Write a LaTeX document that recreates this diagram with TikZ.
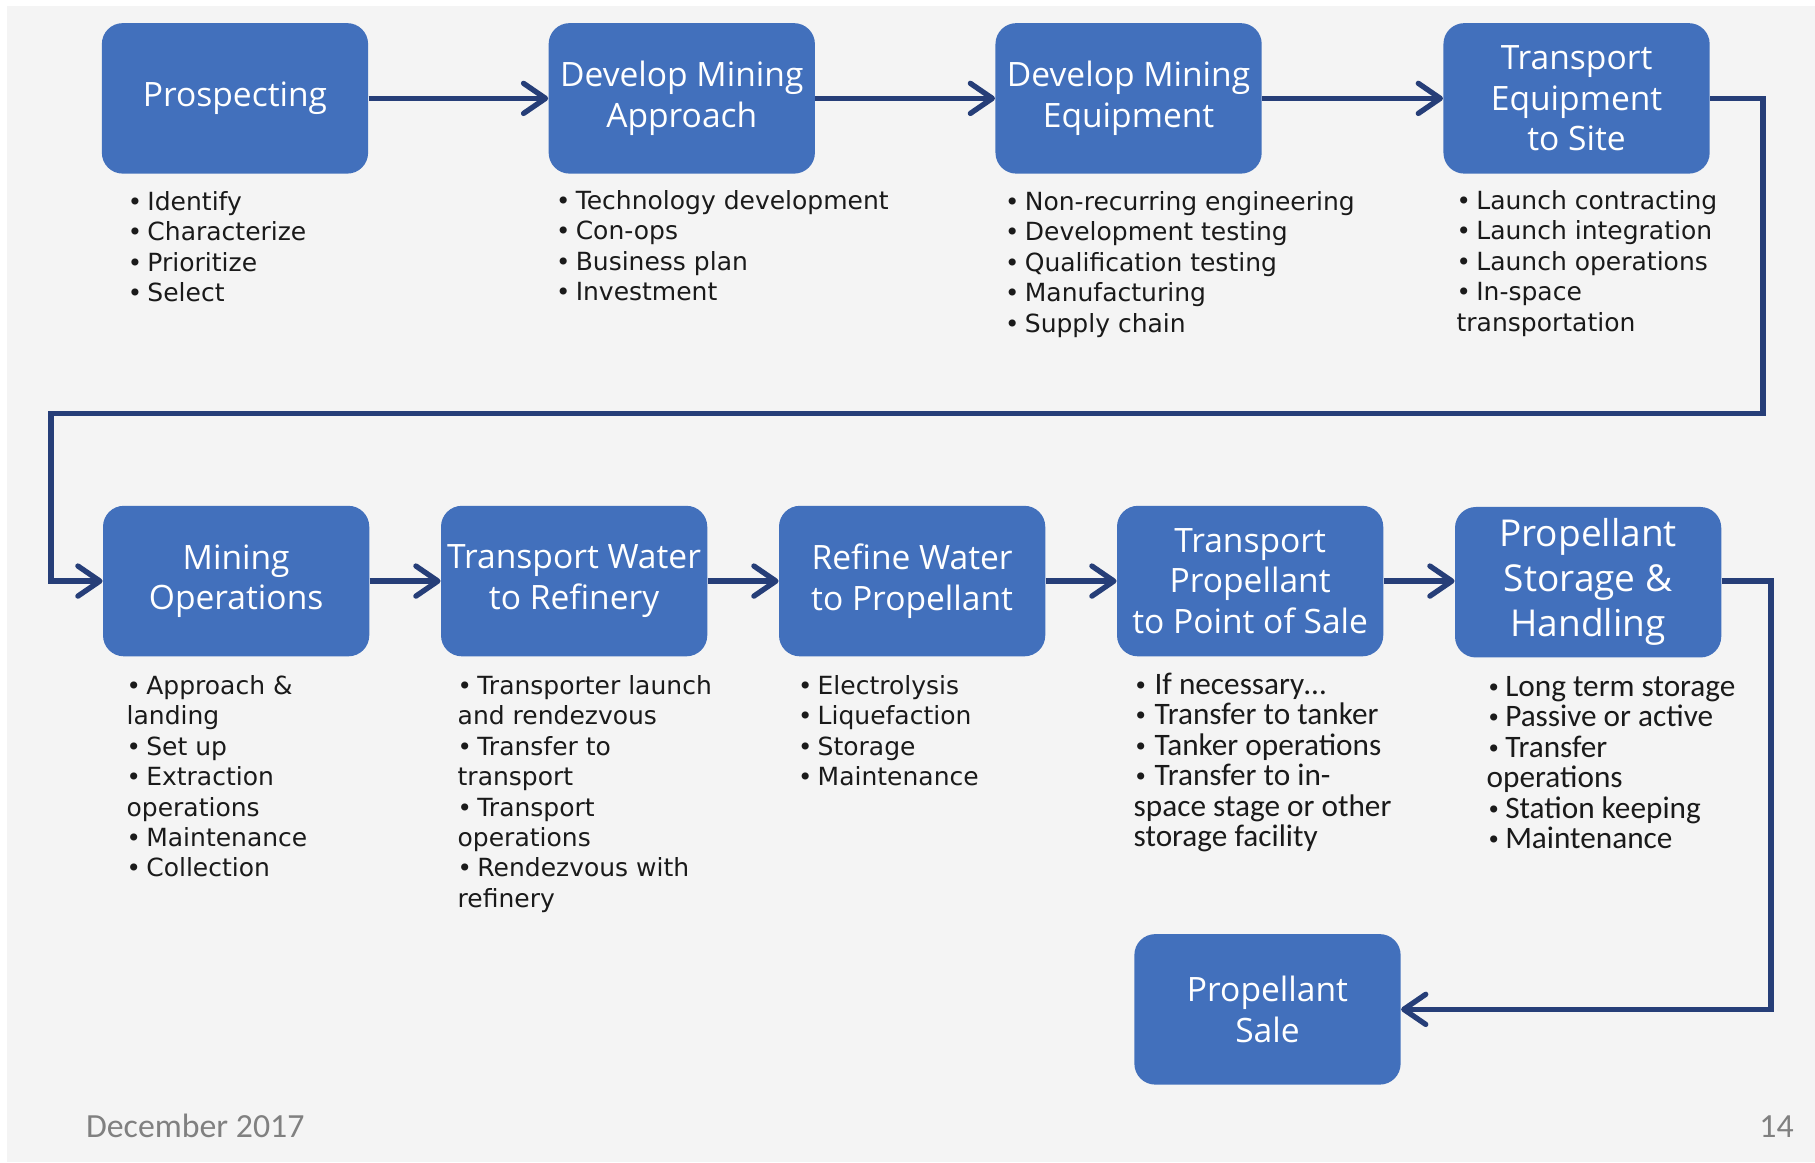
\documentclass[tikz,border=0pt]{standalone}
\usepackage{fontspec}
\setmainfont{DejaVu Sans}
\newfontfamily\labelfont{Open Sans}
\newfontfamily\narrowfont{Carlito}
\newfontfamily\bulletfont{DejaVu Sans}
\usetikzlibrary{arrows.meta}
\definecolor{boxblue}{RGB}{66,112,188}
\definecolor{flowline}{RGB}{38,62,120}
\definecolor{pagegray}{RGB}{244,244,244}
\definecolor{footgray}{RGB}{128,128,128}
\definecolor{inkblack}{RGB}{26,26,26}
% bullet mark in a box of fixed width, so the item text starts at a fixed indent
\newcommand\bul[1][8.5pt]{\makebox[#1][l]{\bulletfont\fontsize{10.5}{10.5}\selectfont\textbullet}}

\begin{document}
\begin{tikzpicture}[x=0.5pt,y=-0.5pt,
  stage/.style={rectangle, rounded corners=9pt, fill=boxblue, text=white,
    minimum width=115pt, minimum height=65pt, align=center, inner sep=2pt,
    font=\labelfont\fontsize{14.5}{17.5}\selectfont},
  notes/.style={anchor=north west, inner sep=0pt, align=left, text=inkblack,
    font=\fontsize{10.8}{13.15}\selectfont},
  notesn/.style={anchor=north west, inner sep=0pt, align=left, text=inkblack,
    font=\narrowfont\fontsize{13.5}{13.15}\selectfont},
  flow/.style={draw=flowline, line width=2.3pt,
    -{Straight Barb[round,length=9.5pt,width=13pt]}},
  foot/.style={inner sep=0pt, text=footgray, font=\narrowfont\fontsize{14.6}{17}\selectfont},
]
% page
\useasboundingbox (0,0) rectangle (1568,1004);
\fill[white] (0,0) rectangle (1568,1004);
\fill[pagegray] (6,5) rectangle (1568,1004);

% first row of stages
\node[stage] (p1) at (203,85) {Prospecting};
\node[stage] (p2) at (589,85) {Develop Mining\\Approach};
\node[stage] (p3) at (975,85) {Develop Mining\\Equipment};
\node[stage] (p4) at (1362,85) {Transport\\Equipment\\to Site};

% second row of stages
\node[stage] (m1) at (204,502) {Mining\\Operations};
\node[stage] (m2) at (496,502) {Transport Water\\to Refinery};
\node[stage] (m3) at (788,502) {Refine Water\\to Propellant};
\node[stage] (m4) at (1080,502) {Transport\\Propellant\\to Point of Sale};
\node[stage, font=\labelfont\fontsize{16}{19.5}\selectfont] (m5) at (1372,503) {Propellant\\Storage \&\\Handling};

% final stage
\node[stage] (sale) at (1095,872) {Propellant\\Sale};

% notes under the first row
\node[notes] (t1) at (110,165) {\bul Identify\\\bul Characterize\\\bul Prioritize\\\bul Select};
\node[notes] (t2) at (480,164) {\bul Technology development\\\bul Con-ops\\\bul Business plan\\\bul Investment};
\node[notes] (t3) at (868,165) {\bul Non-recurring engineering\\\bul Development testing\\\bul Qualification testing\\\bul Manufacturing\\\bul Supply chain};
\node[notes] (t4) at (1258,164) {\bul Launch contracting\\\bul Launch integration\\\bul Launch operations\\\bul In-space\\transportation};

% notes under the second row
\node[notes] (u1) at (109,583) {\bul Approach \&\\landing\\\bul Set up\\\bul Extraction\\operations\\\bul Maintenance\\\bul Collection};
\node[notes] (u2) at (395,583) {\bul Transporter launch\\and rendezvous\\\bul Transfer to\\transport\\\bul Transport\\operations\\\bul Rendezvous with\\refinery};
\node[notes] (u3) at (689,583) {\bul Electrolysis\\\bul Liquefaction\\\bul Storage\\\bul Maintenance};
\node[notesn] (u4) at (979,581) {\bul[9pt]If necessary\dots\\\bul[9pt]Transfer to tanker\\\bul[9pt]Tanker operations\\\bul[9pt]Transfer to in-\\space stage or other\\storage facility};
\node[notesn] (u5) at (1284,584) {\bul[8pt]Long term storage\\\bul[8pt]Passive or active\\\bul[8pt]Transfer\\operations\\\bul[8pt]Station keeping\\\bul[8pt]Maintenance};

% routing points of the long connectors
\coordinate (r1) at (1523,357);
\coordinate (r2) at (44,357);
\coordinate (s1) at (1530,872);

% connectors
\draw[flow] (p1) -- (p2);
\draw[flow] (p2) -- (p3);
\draw[flow] (p3) -- (p4);
\draw[flow] (p4.east) -| (r1) -- (r2) |- (m1.west);
\draw[flow] (m1) -- (m2);
\draw[flow] (m2) -- (m3);
\draw[flow] (m3) -- (m4);
\draw[flow] (m4) -- (m5.west |- m4);
\draw[flow] (m5.east |- m4) -| (s1) -- (sale.east);

% footer
\node[foot, anchor=west] (date) at (74,973) {December 2017};
\node[foot, anchor=east] (page) at (1550,973) {14};
\end{tikzpicture}
\end{document}
